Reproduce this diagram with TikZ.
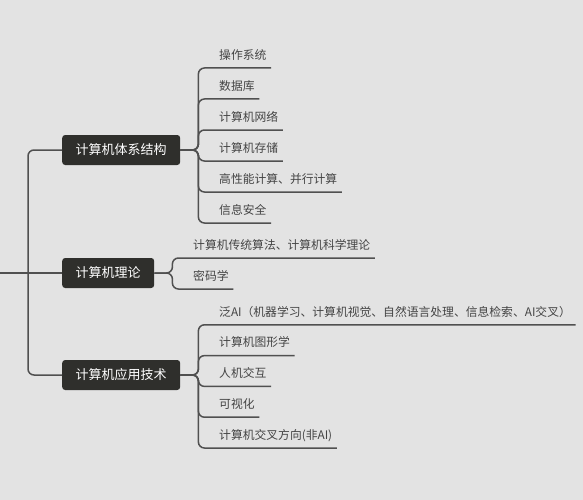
\documentclass[tikz,border=0pt]{standalone}
\usepackage{fontspec}
\setmainfont{Noto Sans CJK SC}
\usetikzlibrary{positioning}
\definecolor{bgcolor}{HTML}{E3E3E3}
\definecolor{boxcolor}{HTML}{2F2F2C}
\definecolor{linecolor}{HTML}{505050}
\definecolor{leafcolor}{HTML}{444444}
\tikzset{
    topic/.style={anchor=west, fill=boxcolor, text=white, rounded corners=3pt,
        minimum height=30pt, inner xsep=13.5pt, inner ysep=0pt,
        text height=11.4pt, text depth=1.6pt, font=\fontsize{13}{15}\selectfont},
    leaf/.style={anchor=south west, text=leafcolor, inner xsep=4.5pt, inner ysep=0pt,
        text height=9pt, text depth=8.5pt, font=\fontsize{11.8}{14}\selectfont},
    link/.style={draw=linecolor, line width=1.5pt, rounded corners=6pt},
}

\begin{document}
\begin{tikzpicture}[x=1pt,y=-1pt]

    % Background and page size.
    \fill[bgcolor] (0,0) rectangle (583,500);
    \useasboundingbox (0,0) rectangle (583,500);

    % Draw main topics.
    \node[topic] (arch) at (62,150) {计算机体系结构};
    \node[topic] (theory) at (62,273) {计算机理论};
    \node[topic] (app) at (62,375) {计算机应用技术};

    % Draw trunk from the left edge.
    \coordinate (root) at (0,273);
    \coordinate (trunk) at (28,273);
    \draw[link] (root) -- (theory.west);
    \draw[link] (trunk) |- (arch.west);
    \draw[link] (trunk) |- (app.west);

    % Branch points right of each topic.
    \coordinate[right=18pt of arch] (archhub);
    \coordinate[right=18pt of theory] (theoryhub);
    \coordinate[right=18pt of app] (apphub);

    % Draw subtopics of $arch$.
    \foreach \t [count=\i] in {操作系统,数据库,计算机网络,计算机存储,高性能计算、并行计算,信息安全}
        \node[leaf] (arch\i) at (214.5,37+31*\i) {\t};
    \foreach \i in {1,...,6}
        \draw[link] (arch.east) -- (archhub) |- (arch\i.south east);

    % Draw subtopics of $theory$.
    \foreach \t [count=\i] in {计算机传统算法、计算机科学理论,密码学}
        \node[leaf] (theory\i) at (188.5,227+31*\i) {\t};
    \foreach \i in {1,2}
        \draw[link] (theory.east) -- (theoryhub) |- (theory\i.south east);

    % Draw subtopics of $app$.
    \foreach \t [count=\i] in {泛AI（机器学习、计算机视觉、自然语言处理、信息检索、AI交叉）,计算机图形学,人机交互,可视化,计算机交叉方向(非AI)}
        \node[leaf] (app\i) at (214.5,294+30.8*\i) {\t};
    \foreach \i in {1,...,5}
        \draw[link] (app.east) -- (apphub) |- (app\i.south east);

\end{tikzpicture}
\end{document}
